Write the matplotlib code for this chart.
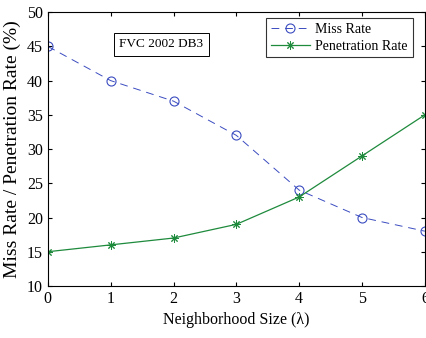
import matplotlib
matplotlib.use('Agg')
import matplotlib.pyplot as plt

# neighborhood sizes and the two rates (%)
lam = [0, 1, 2, 3, 4, 5, 6]
miss_rate = [45, 40, 37, 32, 24, 20, 18]
penetration_rate = [15, 16, 17, 19, 23, 29, 35]

plt.rcParams['font.family'] = ['Liberation Serif', 'DejaVu Serif']
plt.rcParams['font.size'] = 11

fig = plt.figure(figsize=(4.27, 3.38), dpi=100)
ax = fig.add_axes([0.112, 0.154, 0.883, 0.810])

ax.plot(lam, miss_rate, '--o', color='#3b4cc0', lw=0.7, ms=6.5,
        mfc='none', mew=0.8, dashes=(8, 6), label='Miss Rate')
ax.plot(lam, penetration_rate, '-', marker=(8, 2, 0), color='#1e8a3c',
        lw=0.9, ms=6, mew=0.7, label='Penetration Rate')

ax.set_xlim(0, 6)
ax.set_ylim(10, 50)
ax.set_xticks(range(0, 7))
ax.set_yticks(range(10, 51, 5))
ax.tick_params(direction='in', top=True, right=True, length=3, labelsize=11.5)
for s in ax.spines.values():
    s.set_linewidth(0.8)

ax.set_xlabel('Neighborhood Size (λ)', fontsize=11.5)
ax.set_ylabel('Miss Rate / Penetration Rate (%)', fontsize=14)

ax.text(0.19, 0.882, 'FVC 2002 DB3', transform=ax.transAxes, fontsize=9.5,
        va='center', ha='left',
        bbox=dict(boxstyle='square,pad=0.45', fc='white', ec='black', lw=0.7))

leg = ax.legend(loc='upper right', fontsize=10, frameon=True, fancybox=False,
                edgecolor='black', borderpad=0.35, labelspacing=0.25,
                handlelength=2.8, handletextpad=0.4, borderaxespad=0,
                bbox_to_anchor=(0.968, 0.978))
leg.get_frame().set_linewidth(0.8)

fig.savefig('out.png', dpi=100)
